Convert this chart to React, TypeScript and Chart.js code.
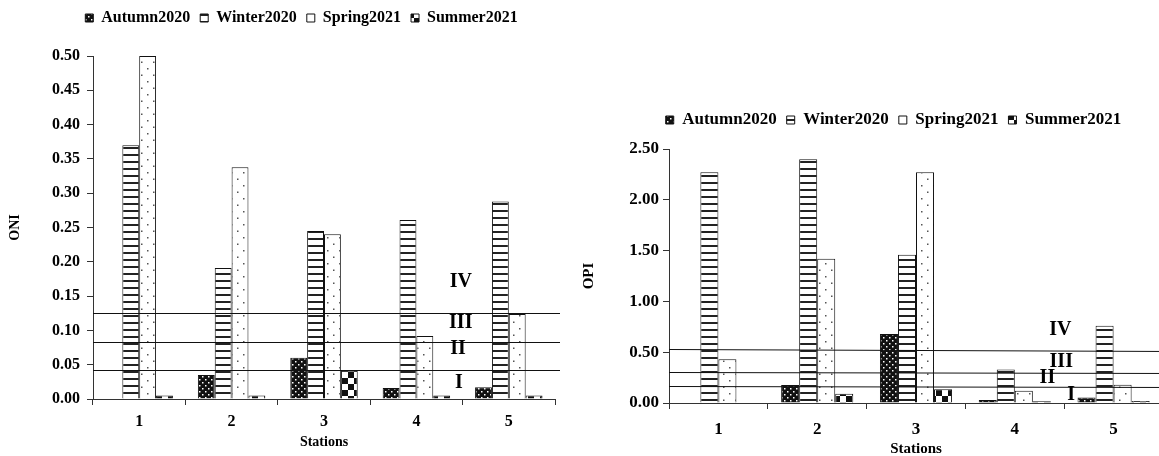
import React, { useEffect, useRef } from 'react';
import { Chart, registerables } from 'chart.js';
Chart.register(...registerables);

const FONT = '"Liberation Serif", "Times New Roman", serif';

const stations = ['1', '2', '3', '4', '5'];
const seasonLabels = ['Autumn2020', 'Winter2020', 'Spring2021', 'Summer2021'];

// ONI (left panel)
const oniAutumn = [null, 0.035, 0.06, 0.016, 0.017];
const oniWinter = [0.37, 0.191, 0.245, 0.261, 0.288];
const oniSpring = [0.5, 0.338, 0.24, 0.092, 0.124];
const oniSummer = [0.005, 0.005, 0.041, 0.005, 0.005];

// OPI (right panel)
const opiAutumn = [null, 0.177, 0.68, 0.03, 0.055];
const opiWinter = [2.27, 2.4, 1.46, 0.33, 0.76];
const opiSpring = [0.43, 1.42, 2.27, 0.12, 0.18];
const opiSummer = [null, 0.09, 0.135, 0.016, 0.02];

// class boundary lines [value at left, value at right]
const oniZoneLines = [[0.125, 0.125], [0.083, 0.083], [0.042, 0.042]];
const opiZoneLines = [[0.534, 0.51], [0.31, 0.3], [0.17, 0.158]];
const zoneNames = ['IV', 'III', 'II', 'I'];
const oniZoneY = [0.171, 0.111, 0.073, 0.023];
const oniZoneX = [3.48, 3.48, 3.45, 3.46];
const opiZoneY = [0.72, 0.405, 0.25, 0.08];
const opiZoneX = [3.46, 3.47, 3.33, 3.57];

function makePattern(kind: string): CanvasPattern {
  const c = document.createElement('canvas');
  const g = c.getContext('2d')!;
  if (kind === 'autumn') {
    c.width = 6; c.height = 6;
    g.fillStyle = '#111'; g.fillRect(0, 0, 6, 6);
    g.fillStyle = '#fff';
    g.fillRect(1, 1, 1.5, 1.5);
    g.fillRect(4, 4, 1.5, 1.5);
  } else if (kind === 'winter') {
    c.width = 7; c.height = 7;
    g.fillStyle = '#fff'; g.fillRect(0, 0, 7, 7);
    g.fillStyle = '#222'; g.fillRect(0, 0, 7, 2);
  } else if (kind === 'spring') {
    c.width = 12; c.height = 13;
    g.fillStyle = '#fff'; g.fillRect(0, 0, 12, 13);
    g.fillStyle = '#555';
    g.fillRect(3, 3, 1.5, 1.5);
    g.fillRect(9, 9.5, 1.5, 1.5);
  } else {
    c.width = 12; c.height = 12;
    g.fillStyle = '#fff'; g.fillRect(0, 0, 12, 12);
    g.fillStyle = '#111';
    g.fillRect(0, 0, 6, 6);
    g.fillRect(6, 6, 6, 6);
  }
  return g.createPattern(c, 'repeat')!;
}

type Cfg = {
  series: (number | null)[][];
  max: number;
  step: number;
  yTitle: string;
  catPct: number;
  padTop: number;
  padRight: number;
  legendPad: number;
  legendFont: number;
  legendExtra: number;
  legendDx: number;
  tickFont: number;
  titleFont: number;
  xHeight: number;
  yWidth: number;
  xTickPad: number;
  xTitlePad: number;
  yTickPad: number;
  yTitlePad: number;
  zoneLines: number[][];
  zoneX: number[];
  zoneY: number[];
  zoneFont: number;
  lineExt: number;
};

function buildChart(canvas: HTMLCanvasElement, cfg: Cfg) {
  const patterns = [makePattern('autumn'), makePattern('winter'), makePattern('spring'), makePattern('summer')];
  const legendTweak = {
    id: 'legendTweak',
    beforeInit(chart: any) {
      const lg = chart.legend;
      const orig = lg.fit;
      lg.fit = function () {
        orig.call(this);
        this.height += cfg.legendExtra;
      };
    },
    afterLayout(chart: any) {
      chart.legend.left += cfg.legendDx;
      chart.legend.right += cfg.legendDx;
    },
  };
  const zones = {
    id: 'zones',
    afterDatasetsDraw(chart: any) {
      const { ctx, chartArea, scales } = chart;
      const x = scales.x, y = scales.y;
      ctx.save();
      ctx.strokeStyle = '#111';
      ctx.lineWidth = 1;
      cfg.zoneLines.forEach(([a, b]) => {
        ctx.beginPath();
        ctx.moveTo(chartArea.left, Math.round(y.getPixelForValue(a)) + 0.5);
        ctx.lineTo(chartArea.right + cfg.lineExt, Math.round(y.getPixelForValue(b)) + 0.5);
        ctx.stroke();
      });
      ctx.fillStyle = '#000';
      ctx.font = `bold ${cfg.zoneFont}px ${FONT}`;
      ctx.textAlign = 'center';
      ctx.textBaseline = 'middle';
      zoneNames.forEach((n, i) => {
        ctx.fillText(n, x.getPixelForValue(cfg.zoneX[i]), y.getPixelForValue(cfg.zoneY[i]));
      });
      ctx.restore();
    },
  };
  const tickFont = { family: FONT, size: cfg.tickFont, weight: 'bold' as const };
  const titleFont = { family: FONT, size: cfg.titleFont, weight: 'bold' as const };
  return new Chart(canvas, {
    type: 'bar',
    data: {
      labels: stations,
      datasets: cfg.series.map((d, i) => ({
        label: seasonLabels[i],
        data: d as any,
        backgroundColor: patterns[i] as any,
        borderColor: '#111',
        borderWidth: 1,
        barPercentage: 1,
        categoryPercentage: cfg.catPct,
      })),
    },
    options: {
      responsive: false,
      animation: false,
      events: [],
      layout: { padding: { top: cfg.padTop, left: 0, right: cfg.padRight, bottom: 0 } },
      plugins: {
        legend: {
          position: 'top',
          labels: {
            boxWidth: 8,
            boxHeight: 8,
            padding: cfg.legendPad,
            color: '#000',
            font: { family: FONT, size: cfg.legendFont, weight: 'bold' },
          },
        },
        tooltip: { enabled: false },
      },
      scales: {
        x: {
          grid: { display: true, drawOnChartArea: false, tickLength: 6, color: '#333', offset: true },
          border: { color: '#333', width: 1 },
          ticks: { color: '#000', font: tickFont, padding: cfg.xTickPad, maxRotation: 0 },
          title: { display: true, text: 'Stations', color: '#000', font: titleFont, padding: { top: 0, bottom: cfg.xTitlePad } },
          afterFit: (s: any) => { s.height = cfg.xHeight; },
        },
        y: {
          min: 0,
          max: cfg.max,
          ticks: {
            stepSize: cfg.step,
            color: '#000',
            font: tickFont,
            padding: cfg.yTickPad,
            callback: (v: any) => Number(v).toFixed(2),
          },
          grid: { drawOnChartArea: false, tickLength: 6, color: '#333' },
          border: { color: '#333', width: 1 },
          title: { display: true, text: cfg.yTitle, color: '#000', font: titleFont, padding: { top: cfg.yTitlePad, bottom: 0 } },
          afterFit: (s: any) => { s.width = cfg.yWidth; },
        },
      },
    },
    plugins: [legendTweak, zones],
  } as any);
}

export default function App() {
  const leftRef = useRef<HTMLCanvasElement>(null);
  const rightRef = useRef<HTMLCanvasElement>(null);

  useEffect(() => {
    const left = buildChart(leftRef.current!, {
      series: [oniAutumn, oniWinter, oniSpring, oniSummer],
      max: 0.5,
      step: 0.05,
      yTitle: 'ONI',
      catPct: 0.73,
      padTop: 0,
      padRight: 20,
      legendPad: 10,
      legendFont: 16,
      legendExtra: 20,
      legendDx: 24,
      tickFont: 16,
      titleFont: 14,
      xHeight: 57,
      yWidth: 93,
      xTickPad: 7,
      xTitlePad: 5,
      yTickPad: 7,
      yTitlePad: 7,
      zoneLines: oniZoneLines,
      zoneX: oniZoneX,
      zoneY: oniZoneY,
      zoneFont: 20,
      lineExt: 5,
    });
    const right = buildChart(rightRef.current!, {
      series: [opiAutumn, opiWinter, opiSpring, opiSummer],
      max: 2.5,
      step: 0.5,
      yTitle: 'OPI',
      catPct: 0.73,
      padTop: 101.5,
      padRight: 7,
      legendPad: 10,
      legendFont: 17,
      legendExtra: 10.5,
      legendDx: 27,
      tickFont: 17,
      titleFont: 15,
      xHeight: 67,
      yWidth: 99,
      xTickPad: 10,
      xTitlePad: 12,
      yTickPad: 4,
      yTitlePad: 10,
      zoneLines: opiZoneLines,
      zoneX: opiZoneX,
      zoneY: opiZoneY,
      zoneFont: 20,
      lineExt: 10,
    });
    return () => {
      left.destroy();
      right.destroy();
    };
  }, []);

  return (
    <div style={{ position: 'absolute', left: 0, top: 0, width: 1159, height: 456, overflow: 'hidden', background: '#fff' }}>
      <canvas ref={leftRef} width={575} height={456} style={{ position: 'absolute', left: 0, top: 0, width: 575, height: 456 }} />
      <canvas ref={rightRef} width={600} height={470} style={{ position: 'absolute', left: 570, top: 0, width: 600, height: 470 }} />
    </div>
  );
}
